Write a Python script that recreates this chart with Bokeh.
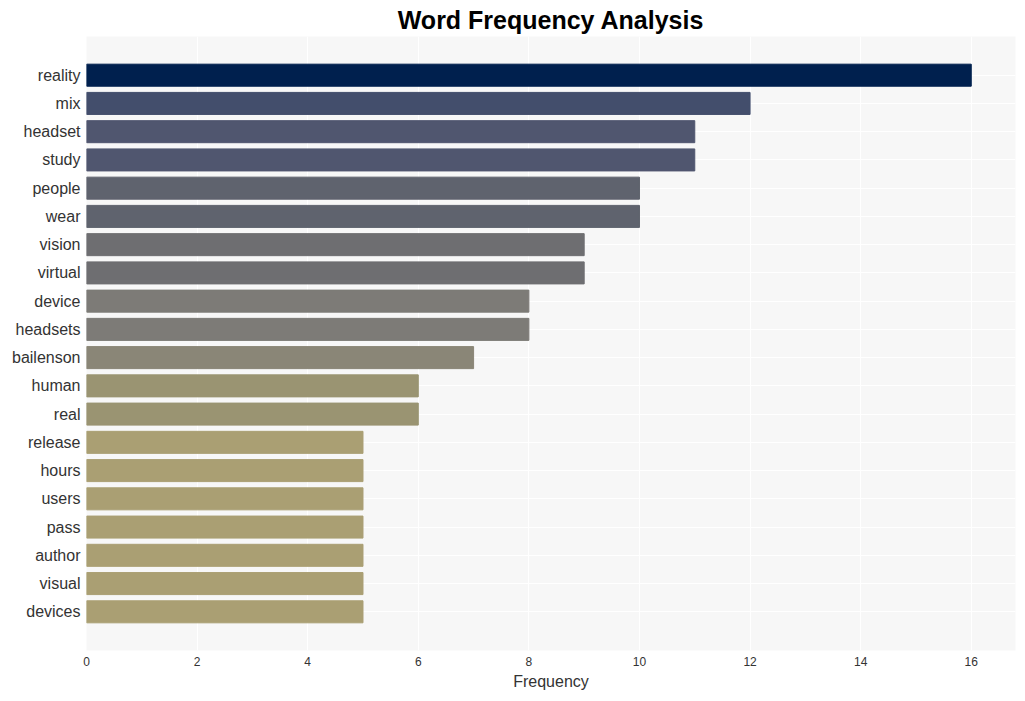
from bokeh.plotting import figure
from bokeh.embed import file_html
from bokeh.resources import INLINE
from bokeh.models import ColumnDataSource, Range1d, FixedTicker

words = ["reality", "mix", "headset", "study", "people", "wear", "vision", "virtual",
         "device", "headsets", "bailenson", "human", "real", "release", "hours", "users",
         "pass", "author", "visual", "devices"]
counts = [16, 12, 11, 11, 10, 10, 9, 9, 8, 8, 7, 6, 6, 5, 5, 5, 5, 5, 5, 5]
colors = ["#00204E", "#434E6C", "#50566F", "#50566F", "#5F636E", "#5F636E",
          "#6E6E71", "#6E6E71", "#7D7B77", "#7D7B77", "#8A8677", "#9A9472",
          "#9A9472", "#AA9F73", "#AA9F73", "#AA9F73", "#AA9F73", "#AA9F73",
          "#AA9F73", "#AA9F73"]
x_ticks = [0, 2, 4, 6, 8, 10, 12, 14, 16]

src = ColumnDataSource(dict(word=words, count=counts, color=colors))

p = figure(y_range=list(reversed(words)), width=1025, height=701,
           output_backend="svg", toolbar_location=None,
           title="Word Frequency Analysis",
           min_border_left=86, min_border_right=10, min_border_top=28, min_border_bottom=51)
p.x_range = Range1d(0, 16.8)
p.y_range.range_padding = 0.087
p.y_range.range_padding_units = "percent"

p.hbar(y="word", right="count", left=0, height=0.78, color="color", source=src)

p.background_fill_color = "#F7F7F7"
p.border_fill_color = "white"
p.outline_line_color = None

p.title.text_font = "Liberation Sans"
p.title.text_font_size = "25px"
p.title.text_font_style = "bold"
p.title.align = "center"
p.title.text_color = "black"
p.title.standoff = 6

p.xaxis.ticker = FixedTicker(ticks=x_ticks)
p.xaxis.axis_label = "Frequency"
p.xaxis.axis_label_text_font = "Liberation Sans"
p.xaxis.axis_label_text_font_size = "16px"
p.xaxis.axis_label_text_font_style = "normal"
p.xaxis.axis_label_text_color = "#333333"
p.xaxis.axis_label_standoff = 4
p.axis.axis_line_color = None
p.axis.major_tick_line_color = None
p.axis.minor_tick_line_color = None
p.axis.major_tick_out = 0
p.axis.major_tick_in = 0
p.xaxis.major_label_text_font = "Liberation Sans"
p.xaxis.major_label_text_font_size = "12px"
p.xaxis.major_label_text_color = "#333333"
p.yaxis.major_label_text_font = "Liberation Sans"
p.yaxis.major_label_text_font_size = "16px"
p.yaxis.major_label_text_color = "#333333"
p.xaxis.major_label_standoff = 6
p.yaxis.major_label_standoff = 6

p.xgrid.grid_line_color = "white"
p.xgrid.grid_line_width = 1
p.ygrid.grid_line_color = "white"
p.ygrid.grid_line_width = 1

open("out.html", "w").write(file_html(p, INLINE))
